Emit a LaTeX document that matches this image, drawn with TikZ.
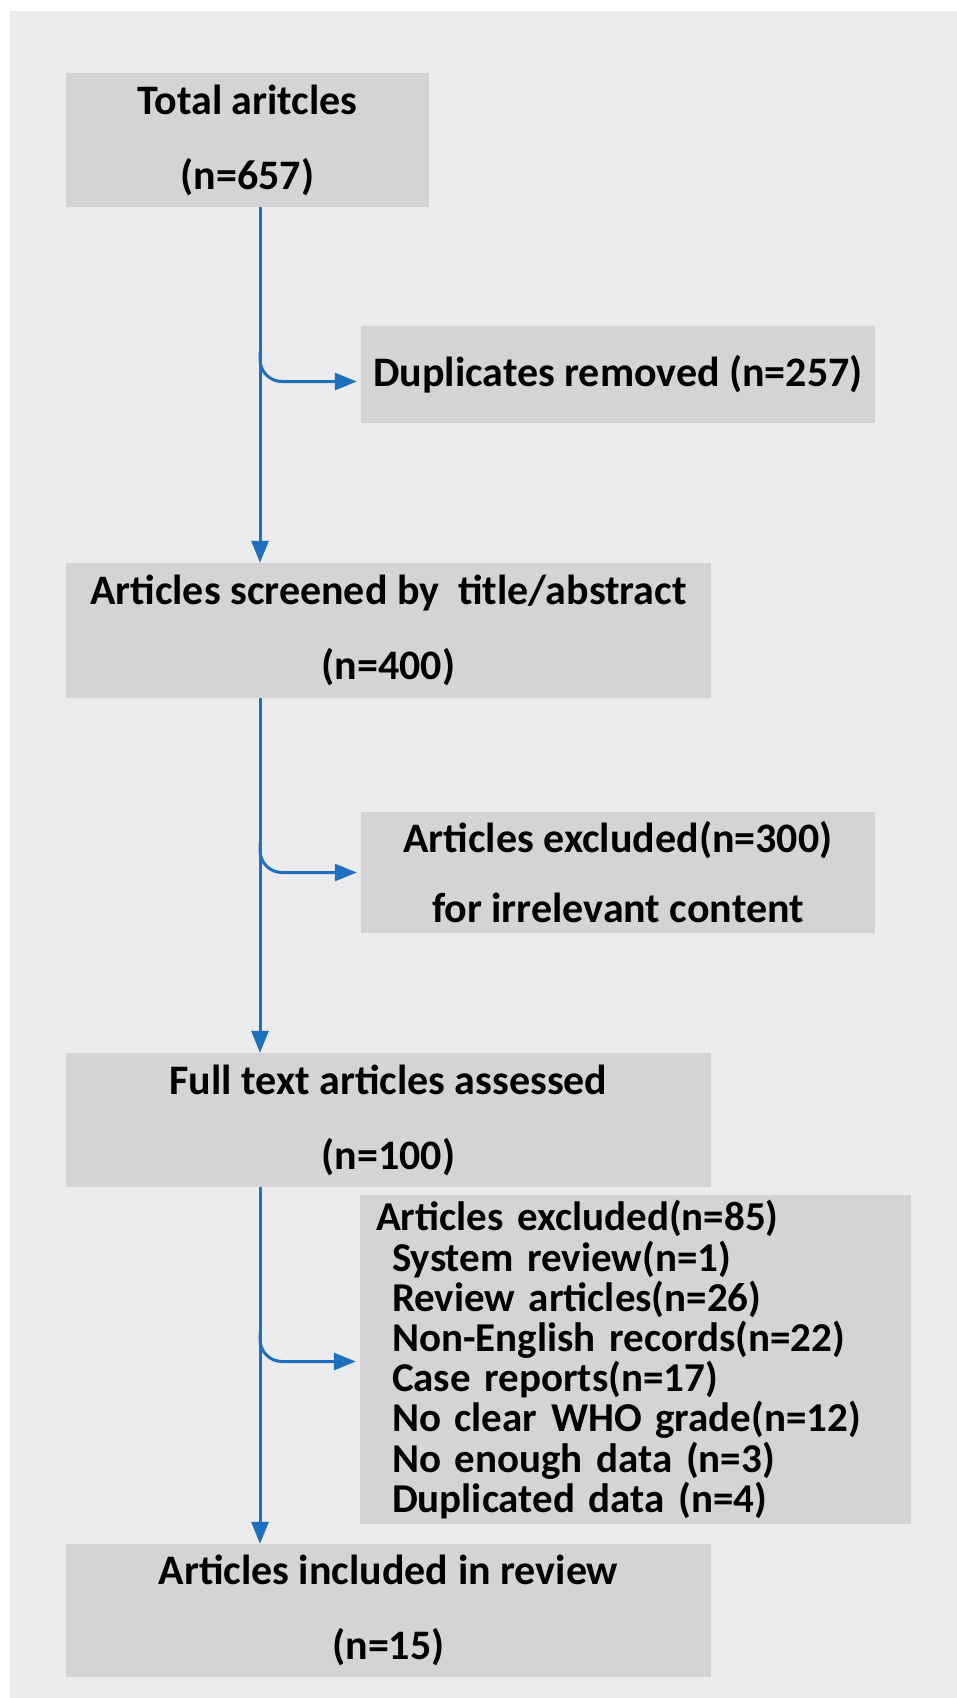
\documentclass[tikz,border=0pt]{standalone}
\usepackage{fontspec}
\setmainfont{Carlito}
\usetikzlibrary{arrows.meta,calc}
\definecolor{panelgray}{RGB}{236,236,238}
\definecolor{boxgray}{RGB}{212,212,214}
\definecolor{flowblue}{RGB}{31,111,191}

\begin{document}
\begin{tikzpicture}[x=1pt, y=-1pt,
    box/.style={fill=boxgray, inner sep=0pt, align=center,
      font=\fontsize{42}{75}\selectfont\bfseries},
    listbox/.style={fill=boxgray, inner ysep=0pt, inner xsep=16pt, align=left,
      text width=519pt, minimum height=329pt,
      font=\fontsize{41}{40.2}\selectfont\bfseries},
    flow/.style={flowblue, line width=3pt, -{Triangle[length=22pt,width=17pt]}},
    branch/.style={flow, rounded corners=22pt, shorten >=4pt}]
        \useasboundingbox (0,0) rectangle (957,1698);
        \fill[white] (0,0) rectangle (957,1698);
        \fill[panelgray] (10,11) rectangle (957,1698);
        % main column
        \node[box, minimum width=363pt, minimum height=134pt] (total) at (247.5,140) {Total aritcles\\(n=657)};
        \node[box, minimum width=645pt, minimum height=135pt] (screen) at (388.5,630.5) {Articles screened by\ \ title/abstract\\(n=400)};
        \node[box, minimum width=645pt, minimum height=134pt] (full) at (388.5,1120) {Full text articles assessed\\(n=100)};
        \node[box, minimum width=645pt, minimum height=133pt] (incl) at (388.5,1610.5) {Articles included in review\\(n=15)};
        % side boxes
        \node[box, minimum width=514pt, minimum height=97pt] (dup) at (618,374.5) {Duplicates removed (n=257)};
        \node[box, font=\fontsize{42}{70}\selectfont\bfseries, minimum width=514pt, minimum height=121pt] (excl) at (618,872.5) {Articles excluded(n=300)\\for irrelevant content};
        \node[listbox] (exclfull) at (635.5,1359.5) {Articles excluded(n=85)\\
          \hspace*{16pt}System review(n=1)\\
          \hspace*{16pt}Review articles(n=26)\\
          \hspace*{16pt}Non-English records(n=22)\\
          \hspace*{16pt}Case reports(n=17)\\
          \hspace*{16pt}No clear WHO grade(n=12)\\
          \hspace*{16pt}No enough data (n=3)\\
          \hspace*{16pt}Duplicated data (n=4)};
        \coordinate (spine) at (260,0);
        \draw[flow] (total.south -| spine) -- (screen.north -| spine);
        \draw[flow] (screen.south -| spine) -- (full.north -| spine);
        \draw[flow] (full.south -| spine) -- (incl.north -| spine);
        \coordinate (dupin) at ([yshift=-7pt]dup.west);
        \coordinate (exclin) at (excl.west);
        \coordinate (exclfullin) at ([yshift=-2pt]exclfull.west);
        \draw[branch] ($(spine |- dupin)+(0,-30)$) |- (dupin);
        \draw[branch] ($(spine |- exclin)+(0,-30)$) |- (exclin);
        \draw[branch] ($(spine |- exclfullin)+(0,-30)$) |- (exclfullin);
      \end{tikzpicture}
\end{document}
